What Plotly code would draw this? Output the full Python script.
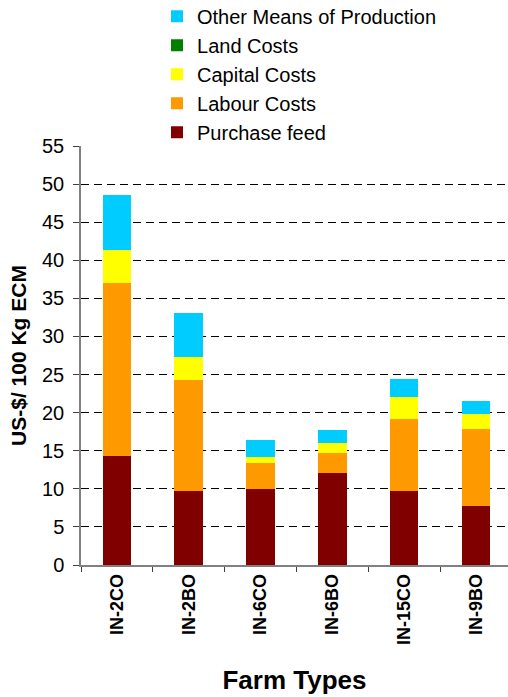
import plotly.graph_objects as go

farm_types = ["IN-2CO", "IN-2BO", "IN-6CO", "IN-6BO", "IN-15CO", "IN-9BO"]
purchase_feed = [14.35, 9.75, 10.0, 12.1, 9.75, 7.8]
labour_costs = [22.7, 14.55, 3.4, 2.65, 9.35, 10.1]
capital_costs = [4.35, 3.05, 0.8, 1.3, 3.0, 1.95]
land_costs = [0, 0, 0, 0, 0, 0]
other_means = [7.2, 5.75, 2.25, 1.7, 2.35, 1.7]

series = [
    ("Purchase feed", purchase_feed, "#800000"),
    ("Labour Costs", labour_costs, "#FF9900"),
    ("Capital Costs", capital_costs, "#FFFF00"),
    ("Land Costs", land_costs, "#008000"),
    ("Other Means of Production", other_means, "#00CCFF"),
]

FONT = "Arial, Liberation Sans, sans-serif"

fig = go.Figure()
for name, vals, color in series:
    fig.add_trace(go.Bar(x=farm_types, y=vals, name=name, marker_color=color,
                         marker_line_width=0, width=0.4))

fig.update_layout(
    width=508, height=697,
    barmode="stack",
    plot_bgcolor="white", paper_bgcolor="white",
    font=dict(family=FONT, color="black"),
    margin=dict(l=81, r=0, t=146, b=132, autoexpand=False),
    legend=dict(traceorder="reversed", x=0.178, y=1.356, xanchor="left", yanchor="top",
                font=dict(size=20, family=FONT), itemwidth=30,
                bgcolor="rgba(0,0,0,0)", tracegroupgap=0),
    xaxis=dict(
        range=[-0.5, 5.447], showgrid=False, showline=True, linecolor="#808080",
        linewidth=1.5, ticks="outside", tickson="boundaries", ticklen=5,
        tickcolor="#404040", tickangle=-90,
        tickfont=dict(size=18, family=FONT, weight="bold"),
        title=dict(text="Farm Types", font=dict(size=26, family=FONT, weight="bold"), standoff=27),
        automargin=False,
    ),
    yaxis=dict(
        range=[0, 55], dtick=5, showgrid=True, gridcolor="black", griddash="8px,5px",
        gridwidth=1, showline=True, linecolor="#808080", linewidth=1.5,
        ticks="outside", ticklen=6, tickcolor="#404040", ticklabelstandoff=5,
        tickfont=dict(size=20, family=FONT), zeroline=False,
        title=dict(text="US-$/ 100 Kg ECM", font=dict(size=21, family=FONT, weight="bold"), standoff=10),
        automargin=False,
    ),
)

fig.write_html("out.html", config={"displayModeBar": False},
               post_script="document.body.style.margin='0';document.body.style.overflow='hidden';")
